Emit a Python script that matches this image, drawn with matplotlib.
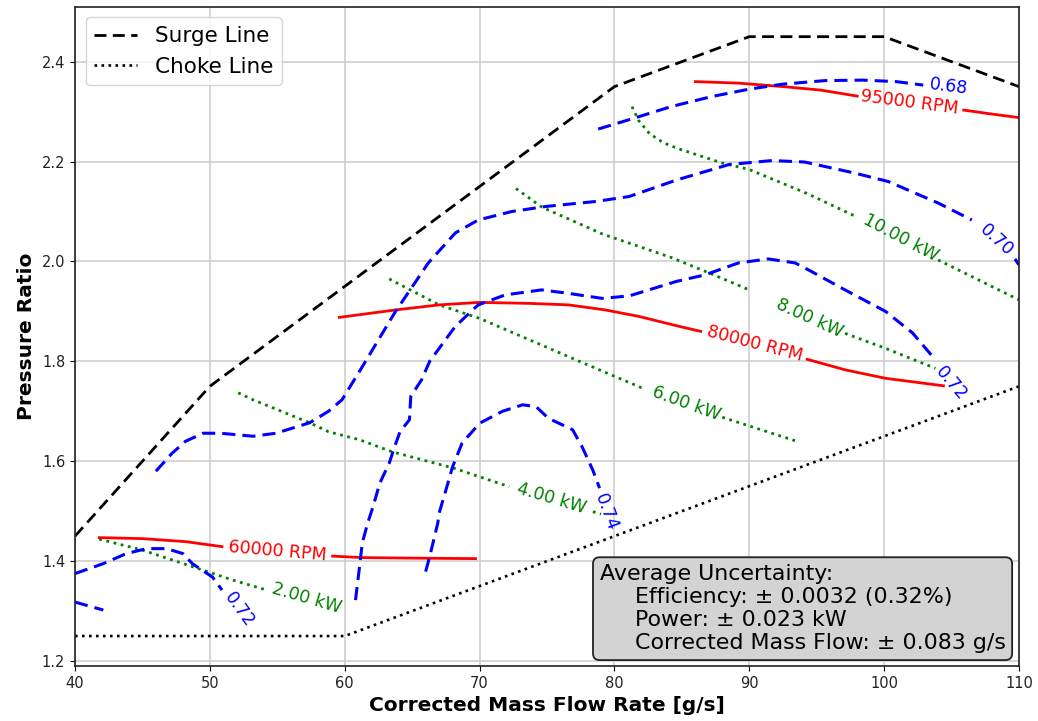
import numpy as np
import matplotlib
matplotlib.use("Agg")
import matplotlib.pyplot as plt

# ---------------- data ----------------
x_ticks = [40, 50, 60, 70, 80, 90, 100, 110]
y_ticks = [1.2, 1.4, 1.6, 1.8, 2.0, 2.2, 2.4]

surge_x = [40, 50, 80, 90, 100, 110]
surge_y = [1.45, 1.75, 2.35, 2.45, 2.45, 2.35]
choke_x = [40, 60, 110]
choke_y = [1.25, 1.25, 1.75]

# efficiency contours (blue dashed)
eff068_x = [78.8, 81.6, 84.2, 87.2, 90.0, 92.5, 95.6, 98.4, 100.9, 102.9]
eff068_y = [2.265, 2.288, 2.31, 2.33, 2.345, 2.355, 2.362, 2.363, 2.36, 2.353]
eff068_lab = (104.8, 2.35)

eff070_x = [46.0, 47.2, 48.2, 49.5, 50.8, 53.2, 54.9, 57.4, 58.8, 59.8, 61.3, 63.7, 66.2,
            68.2, 69.9, 72.4, 74.9, 78.6, 81.1, 84.6, 88.5, 91.7, 94.1, 97.8, 100.3,
            104.0, 106.5]
eff070_y = [1.58, 1.616, 1.64, 1.656, 1.656, 1.65, 1.656, 1.677, 1.70, 1.723, 1.789, 1.897,
            1.997, 2.057, 2.083, 2.10, 2.11, 2.12, 2.13, 2.163, 2.194, 2.202, 2.199, 2.177,
            2.16, 2.117, 2.083]
eff070_x2 = [109.7, 110.0]
eff070_y2 = [2.005, 1.993]
eff070_lab = (108.3, 2.043)

eff072_x = [60.8, 61.1, 61.3, 61.7, 62.1, 62.6, 63.3, 63.7, 64.1, 64.8, 64.9, 65.7, 66.3,
            68.2, 69.9, 71.9, 74.6, 76.6, 79.1, 81.1, 84.6, 86.7, 89.2, 91.4, 93.4, 94.6,
            97.1, 100.1, 102.1, 103.8]
eff072_y = [1.322, 1.389, 1.436, 1.476, 1.509, 1.556, 1.596, 1.629, 1.659, 1.683, 1.73,
            1.763, 1.80, 1.87, 1.913, 1.933, 1.943, 1.936, 1.926, 1.931, 1.96, 1.973, 1.997,
            2.005, 1.997, 1.98, 1.943, 1.90, 1.857, 1.803]
eff072_lab = (105.0, 1.756)

eff074_x = [66.0, 66.3, 66.9, 67.0, 67.5, 68.0, 68.7, 70.0, 71.7, 73.2, 74.2, 75.1, 76.9,
            77.6, 78.4, 78.9]
eff074_y = [1.379, 1.409, 1.476, 1.496, 1.542, 1.589, 1.636, 1.676, 1.70, 1.713, 1.709,
            1.686, 1.663, 1.629, 1.582, 1.546]
eff074_lab = (79.4, 1.498)

eff072b_x = [40.0, 42.1, 43.8, 45.3, 46.8, 48.0, 48.7, 50.2, 50.9]
eff072b_y = [1.375, 1.395, 1.415, 1.425, 1.425, 1.415, 1.395, 1.368, 1.342]
eff072b_lab = (52.2, 1.302)

eff_small_x = [40.0, 42.1]
eff_small_y = [1.318, 1.302]

# speed lines (red solid)
rpm95_x = [86.0, 89.2, 92.5, 95.3, 98.0]
rpm95_y = [2.36, 2.357, 2.35, 2.343, 2.331]
rpm95_x2 = [105.9, 108.0, 110.0]
rpm95_y2 = [2.303, 2.295, 2.288]
rpm95_lab = (101.9, 2.318)

rpm80_x = [59.6, 63.8, 67.0, 70.0, 73.7, 76.6, 79.3, 81.8, 84.8, 86.4]
rpm80_y = [1.888, 1.903, 1.913, 1.918, 1.916, 1.913, 1.903, 1.89, 1.87, 1.86]
rpm80_x2 = [94.3, 97.1, 100.1, 104.4]
rpm80_y2 = [1.804, 1.783, 1.766, 1.751]
rpm80_lab = (90.4, 1.836)

rpm60_x = [41.8, 45.0, 48.2, 50.9]
rpm60_y = [1.447, 1.445, 1.439, 1.429]
rpm60_x2 = [59.1, 61.3, 65.0, 69.7]
rpm60_y2 = [1.41, 1.407, 1.406, 1.405]
rpm60_lab = (55.0, 1.42)

# power lines (green dotted)
pw2_x = [41.8, 45.0, 48.7, 51.7, 54.1]
pw2_y = [1.444, 1.422, 1.389, 1.362, 1.343]
pw2_lab = (57.2, 1.325)

pw4_x = [52.1, 53.2, 57.4, 58.8, 61.1, 63.5, 68.1, 72.2]
pw4_y = [1.737, 1.723, 1.677, 1.659, 1.643, 1.619, 1.586, 1.549]
pw4_x2 = [78.4, 79.0]
pw4_y2 = [1.499, 1.494]
pw4_lab = (75.35, 1.526)

pw6_x = [63.3, 67.0, 70.0, 73.7, 77.4, 82.1]
pw6_y = [1.965, 1.913, 1.886, 1.843, 1.80, 1.746]
pw6_x2 = [88.0, 93.4]
pw6_y2 = [1.688, 1.641]
pw6_lab = (85.3, 1.716)

pw8_x = [72.7, 74.6, 79.1, 84.2, 87.2, 90.0]
pw8_y = [2.146, 2.109, 2.055, 2.008, 1.975, 1.943]
pw8_x2 = [97.1, 100.1, 103.8]
pw8_y2 = [1.856, 1.826, 1.786]
pw8_lab = (94.5, 1.887)

pw10_x = [81.3, 81.8, 82.6, 83.6, 84.7, 88.0, 90.0, 94.2, 97.9]
pw10_y = [2.31, 2.282, 2.256, 2.238, 2.226, 2.197, 2.184, 2.137, 2.09]
pw10_x2 = [104.0, 110.0]
pw10_y2 = [2.003, 1.923]
pw10_lab = (101.2, 2.047)

uncert_text = ("Average Uncertainty:\n"
               "     Efficiency: \u00b1 0.0032 (0.32%)\n"
               "     Power: \u00b1 0.023 kW\n"
               "     Corrected Mass Flow: \u00b1 0.083 g/s")

# ---------------- figure ----------------
W, H = 1038, 721
fig = plt.figure(figsize=(W / 100, H / 100), dpi=100)
ax = fig.add_axes([75 / W, 1 - 666 / H, (1019 - 75) / W, (666 - 6.7) / H])
ax.set_xlim(40, 110)
ax.set_ylim(1.19, 2.51)
ax.set_xticks(x_ticks)
ax.set_yticks(y_ticks)
ax.tick_params(labelsize=10.5, labelcolor='#222222')
ax.grid(True, color='#cccccc', lw=1.1)
ax.set_axisbelow(True)
for s in ax.spines.values():
    s.set_color('#222222')
    s.set_linewidth(1.2)

BLUE_LS = (0, (4.3, 2.3))
LABEL_FS = 12.5


def angle(p0, p1):
    a = ax.transData.transform(p0)
    b = ax.transData.transform(p1)
    return np.degrees(np.arctan2(b[1] - a[1], b[0] - a[0]))


def draw(xa, ya, color, ls, lw, label=None, lab=None, xb=None, yb=None):
    ax.plot(xa, ya, color=color, ls=ls, lw=lw)
    if xb is not None:
        ax.plot(xb, yb, color=color, ls=ls, lw=lw)
    if label is not None:
        if xb is not None:
            rot = angle((xa[-1], ya[-1]), (xb[0], yb[0]))
        else:
            rot = angle((xa[-2], ya[-2]), (xa[-1], ya[-1]))
        ax.text(lab[0], lab[1], label, color=color, fontsize=LABEL_FS,
                rotation=rot, rotation_mode='anchor', ha='center', va='center')


# boundaries
ax.plot(surge_x, surge_y, color='black', ls=(0, (4.3, 2.3)), lw=2.0, label='Surge Line')
ax.plot(choke_x, choke_y, color='black', ls=':', lw=1.9, label='Choke Line')

# power
draw(pw2_x, pw2_y, 'green', ':', 2.0, '2.00 kW', pw2_lab)
draw(pw4_x, pw4_y, 'green', ':', 2.0, '4.00 kW', pw4_lab, pw4_x2, pw4_y2)
draw(pw6_x, pw6_y, 'green', ':', 2.0, '6.00 kW', pw6_lab, pw6_x2, pw6_y2)
draw(pw8_x, pw8_y, 'green', ':', 2.0, '8.00 kW', pw8_lab, pw8_x2, pw8_y2)
draw(pw10_x, pw10_y, 'green', ':', 2.0, '10.00 kW', pw10_lab, pw10_x2, pw10_y2)

# speed
draw(rpm60_x, rpm60_y, 'red', '-', 2.0, '60000 RPM', rpm60_lab, rpm60_x2, rpm60_y2)
draw(rpm80_x, rpm80_y, 'red', '-', 2.0, '80000 RPM', rpm80_lab, rpm80_x2, rpm80_y2)
draw(rpm95_x, rpm95_y, 'red', '-', 2.0, '95000 RPM', rpm95_lab, rpm95_x2, rpm95_y2)

# efficiency
draw(eff068_x, eff068_y, 'blue', BLUE_LS, 2.2, '0.68', eff068_lab)
draw(eff070_x, eff070_y, 'blue', BLUE_LS, 2.2, '0.70', eff070_lab, eff070_x2, eff070_y2)
draw(eff072_x, eff072_y, 'blue', BLUE_LS, 2.2, '0.72', eff072_lab)
draw(eff074_x, eff074_y, 'blue', BLUE_LS, 2.2, '0.74', eff074_lab)
draw(eff072b_x, eff072b_y, 'blue', BLUE_LS, 2.2, '0.72', eff072b_lab)
draw(eff_small_x, eff_small_y, 'blue', BLUE_LS, 2.2)

ax.set_xlabel('Corrected Mass Flow Rate [g/s]', fontsize=14.5, fontweight='bold')
ax.set_ylabel('Pressure Ratio', fontsize=14.5, fontweight='bold')

ax.legend(loc='upper left', fontsize=15.5)

ax.text(0.9857, 0.019, uncert_text, transform=ax.transAxes, ha='right', va='bottom',
        multialignment='left', fontsize=15.9, zorder=10,
        bbox=dict(boxstyle='round,pad=0.3', facecolor='lightgray', edgecolor='#222222', lw=1.3))

fig.savefig('out.png', dpi=100)
